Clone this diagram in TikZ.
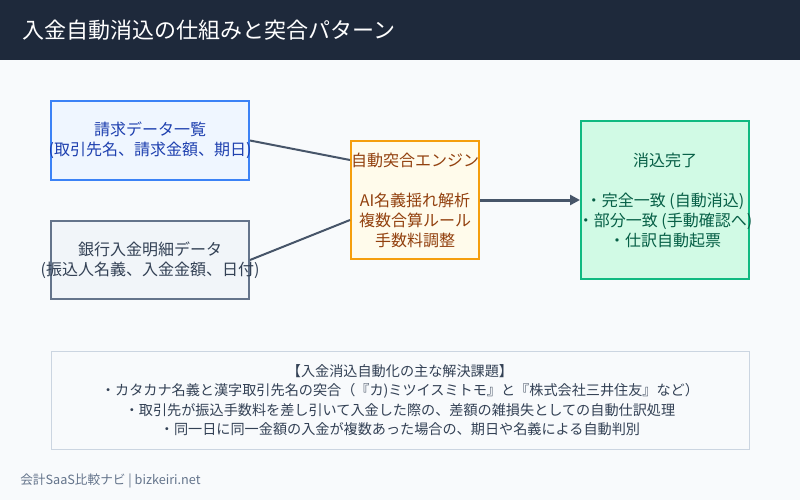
\documentclass[tikz,border=0pt]{standalone}
\usepackage{fontspec}
\setmainfont{Noto Sans CJK JP}
\usepackage{tikz}
\usetikzlibrary{positioning,arrows.meta,calc}
\definecolor{headbg}{HTML}{1E293B}
\definecolor{pagebg}{HTML}{F8FAFC}
\definecolor{invblue}{HTML}{3B82F6}
\definecolor{invfill}{HTML}{EFF6FF}
\definecolor{invtext}{HTML}{1E40AF}
\definecolor{bankgray}{HTML}{64748B}
\definecolor{bankfill}{HTML}{F1F5F9}
\definecolor{slatetext}{HTML}{334155}
\definecolor{engorange}{HTML}{F59E0B}
\definecolor{engfill}{HTML}{FFFBEB}
\definecolor{engtext}{HTML}{92400E}
\definecolor{okgreen}{HTML}{10B981}
\definecolor{okfill}{HTML}{D1FAE5}
\definecolor{oktext}{HTML}{065F46}
\definecolor{notegray}{HTML}{CBD5E1}
\definecolor{linkgray}{HTML}{475569}
% zero-width line, so long text may run over the box edge
\newcommand{\wideline}[1]{\makebox[0pt]{#1}}

\begin{document}
\begin{tikzpicture}[x=0.75pt,y=-0.75pt,
  box/.style={draw, line width=1.5pt, align=center, inner sep=0pt,
    font=\fontsize{12}{15}\selectfont},
  link/.style={draw=linkgray, line width=1.5pt},
  feed/.style={draw=linkgray, line width=2.25pt, -{Triangle[length=7.5pt,width=7.5pt]}}]
  \useasboundingbox (0,0) rectangle (800,500);
  \fill[pagebg] (0,0) rectangle (800,500);
  \fill[headbg] (0,0) rectangle (800,60);
  \node[anchor=west, inner sep=0pt, white, font=\fontsize{16.5}{20}\selectfont] (title) at (22,30)
    {入金自動消込の仕組みと突合パターン};

  \node[box, draw=invblue, fill=invfill, text=invtext, minimum width=148.5pt, minimum height=59.25pt]
    (invoice) at (150,140.5) {請求データ一覧\\\wideline{(取引先名、請求金額、期日)}};
  \node[box, draw=bankgray, fill=bankfill, text=slatetext, minimum width=148.5pt, minimum height=58.5pt]
    (bank) at (150,260) {銀行入金明細データ\\\wideline{(振込人名義、入金金額、日付)}};
  \node[box, draw=engorange, fill=engfill, text=engtext, minimum width=96pt, minimum height=88.5pt]
    (engine) at (415,200) {自動突合エンジン\\[15pt]AI名義揺れ解析\\複数合算ルール\\手数料調整};
  \node[box, draw=okgreen, fill=okfill, text=oktext, minimum width=126pt, minimum height=118.5pt]
    (done) at (665,200) {消込完了\\[15pt]・完全一致 (自動消込)\\\wideline{・部分一致 (手動確認へ)}\\・仕訳自動起票};

  \coordinate (engin1) at ($(engine.west)+(0,-40)$);
  \coordinate (engin2) at ($(engine.west)+(0,20)$);
  \draw[link] (invoice.east) -- (engin1);
  \draw[link] (bank.east) -- (engin2);
  \draw[feed] (engine.east) -- (done.west);

  \node[box, draw=notegray, line width=0.75pt, fill=pagebg, text=slatetext, minimum width=523.5pt,
    minimum height=73.5pt, font=\fontsize{10.6}{14.5}\selectfont] (issues) at (400,400)
    {【入金消込自動化の主な解決課題】\\
     ・カタカナ名義と漢字取引先名の突合（『カ)ミツイスミトモ』と『株式会社三井住友』など）\\
     ・取引先が振込手数料を差し引いて入金した際の、差額の雑損失としての自動仕訳処理\\
     ・同一日に同一金額の入金が複数あった場合の、期日や名義による自動判別};

  \node[anchor=west, inner sep=0pt, text=bankgray, font=\fontsize{9.5}{11}\selectfont] (credit) at (20,481)
    {会計SaaS比較ナビ | bizkeiri.net};
\end{tikzpicture}
\end{document}
